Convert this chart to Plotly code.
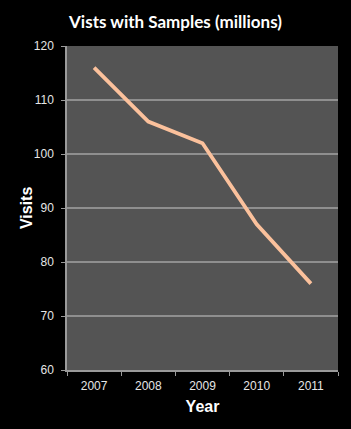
import plotly.graph_objects as go

years = ["2007", "2008", "2009", "2010", "2011"]
visits = [116, 106, 102, 87, 76]

fig = go.Figure()
fig.add_trace(go.Scatter(
    x=years, y=visits, mode="lines",
    line=dict(color="#FBC19C", width=3.8),
    hoverinfo="skip",
))

fig.update_layout(
    width=351, height=429,
    paper_bgcolor="#000000",
    plot_bgcolor="#545454",
    margin=dict(l=67, r=13, t=46, b=59),
    showlegend=False,
    title=dict(
        text="<b>Vists with Samples (millions)</b>",
        x=0.5, xanchor="center", y=0.948, yanchor="middle",
        font=dict(family="Lato, Open Sans, sans-serif", size=17, color="#ffffff"),
    ),
    xaxis=dict(
        type="category",
        range=[-0.5, 4.5],
        tickson="boundaries",
        ticks="outside", ticklen=4, tickcolor="#9a9a9a",
        ticklabelstandoff=4,
        showline=True, linecolor="#9a9a9a", linewidth=1.5,
        showgrid=False,
        tickfont=dict(family="Liberation Sans, Arial, sans-serif", size=12, color="#e6e6e6"),
        title=dict(text="<b>Year</b>", standoff=9,
                   font=dict(family="Liberation Sans, Arial, sans-serif", size=16, color="#ffffff")),
    ),
    yaxis=dict(
        range=[60, 120],
        dtick=10,
        ticks="outside", ticklen=4, tickcolor="#9a9a9a",
        ticklabelstandoff=5,
        showline=True, linecolor="#9a9a9a", linewidth=1.5,
        showgrid=True, gridcolor="#8f8f8f", gridwidth=1.5,
        zeroline=False,
        tickfont=dict(family="Liberation Sans, Arial, sans-serif", size=12, color="#e6e6e6"),
    ),
    annotations=[dict(
        text="<b>Visits</b>", textangle=-90,
        xref="paper", yref="paper", x=-0.151, y=0.5,
        xanchor="center", yanchor="middle", showarrow=False,
        font=dict(family="Liberation Sans, Arial, sans-serif", size=16, color="#ffffff"),
    )],
)

fig.write_html("out.html")
